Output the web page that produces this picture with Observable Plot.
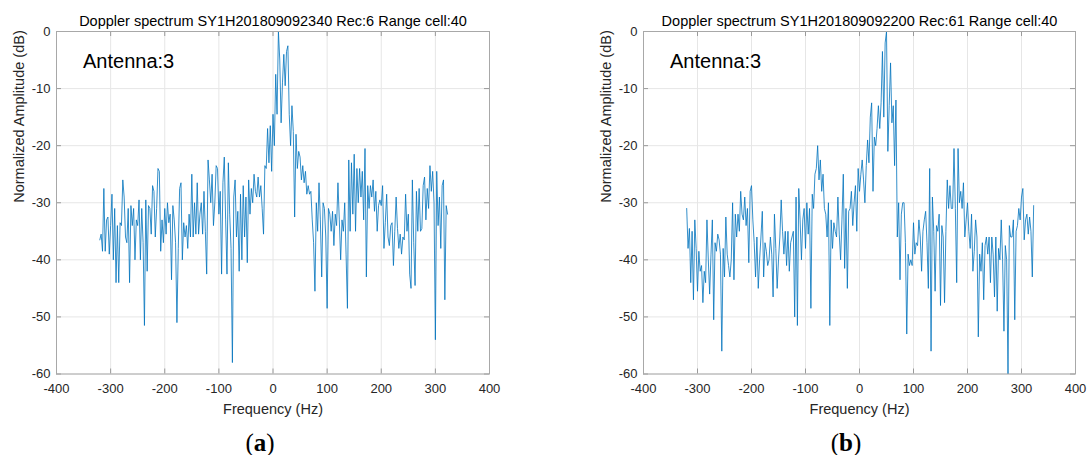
<!DOCTYPE html>
<html>
<head>
<meta charset="utf-8">
<script src="https://cdn.jsdelivr.net/npm/d3@7"></script>
<script src="https://cdn.jsdelivr.net/npm/@observablehq/plot@0.6"></script>
<style>
  html, body { margin: 0; padding: 0; background: #fff; }
  #wrap { position: relative; width: 1088px; height: 455px; background: #fff; overflow: hidden; }
  .panel { position: absolute; top: 0; }
  .cap { position: absolute; top: 427px; width: 100px; text-align: center;
         font-family: 'Liberation Serif', 'DejaVu Serif', serif; font-size: 25px; line-height: 32px; color: #000; }
</style>
</head>
<body>
<div id="wrap">
  <div id="pa" class="panel" style="left:0"></div>
  <div id="pb" class="panel" style="left:544px"></div>
  <div class="cap" style="left:210px">(<b>a</b>)</div>
  <div class="cap" style="left:796px">(<b>b</b>)</div>
</div>
<script>
const titleA = "Doppler spectrum SY1H201809092340 Rec:6 Range cell:40";
const titleB = "Doppler spectrum SY1H201809092200 Rec:61 Range cell:40";
const antennaLabel = "Antenna:3";
const xLabel = "Frequency (Hz)";
const yLabel = "Normalized Amplitude (dB)";
const xTicks = [-400, -300, -200, -100, 0, 100, 200, 300, 400];
const yTicks = [0, -10, -20, -30, -40, -50, -60];

const freqHz = [-320,-317.5,-315,-312.5,-310,-307.5,-305,-302.5,-300,-297.5,-295,-292.5,-290,-287.5,-285,-282.5,
-280,-277.5,-275,-272.5,-270,-267.5,-265,-262.5,-260,-257.5,-255,-252.5,-250,-247.5,-245,-242.5,
-240,-237.5,-235,-232.5,-230,-227.5,-225,-222.5,-220,-217.5,-215,-212.5,-210,-207.5,-205,-202.5,
-200,-197.5,-195,-192.5,-190,-187.5,-185,-182.5,-180,-177.5,-175,-172.5,-170,-167.5,-165,-162.5,
-160,-157.5,-155,-152.5,-150,-147.5,-145,-142.5,-140,-137.5,-135,-132.5,-130,-127.5,-125,-122.5,
-120,-117.5,-115,-112.5,-110,-107.5,-105,-102.5,-100,-97.5,-95,-92.5,-90,-87.5,-85,-82.5,
-80,-77.5,-75,-72.5,-70,-67.5,-65,-62.5,-60,-57.5,-55,-52.5,-50,-47.5,-45,-42.5,
-40,-37.5,-35,-32.5,-30,-27.5,-25,-22.5,-20,-17.5,-15,-12.5,-10,-7.5,-5,-2.5,
0,2.5,5,7.5,10,12.5,15,17.5,20,22.5,25,27.5,30,32.5,35,37.5,
40,42.5,45,47.5,50,52.5,55,57.5,60,62.5,65,67.5,70,72.5,75,77.5,
80,82.5,85,87.5,90,92.5,95,97.5,100,102.5,105,107.5,110,112.5,115,117.5,
120,122.5,125,127.5,130,132.5,135,137.5,140,142.5,145,147.5,150,152.5,155,157.5,
160,162.5,165,167.5,170,172.5,175,177.5,180,182.5,185,187.5,190,192.5,195,197.5,
200,202.5,205,207.5,210,212.5,215,217.5,220,222.5,225,227.5,230,232.5,235,237.5,
240,242.5,245,247.5,250,252.5,255,257.5,260,262.5,265,267.5,270,272.5,275,277.5,
280,282.5,285,287.5,290,292.5,295,297.5,300,302.5,305,307.5,310,312.5,315,317.5,
320,322.5];

// Panel (a): Rec 6, antenna 3
const ampA = [-36.5,-35.5,-38.5,-27.5,-38.5,-33,-32.5,-39,-34,-28.5,-40,-31,-44,-34,-44,-33.5,
-34,-26,-29,-36,-37,-31,-44,-30.5,-34,-31,-40,-33,-34,-29.5,-40,-31,
-37,-51.5,-29.5,-42,-30.5,-31,-35.5,-27,-28,-36,-31,-24,-24.5,-38.5,-33,-37,
-31,-35.5,-30,-33.5,-32,-43.5,-30.5,-33,-37,-51,-38,-27.5,-26.5,-40,-33.5,-36,
-34,-38,-32,-36,-25,-36,-30,-35.5,-26.5,-35.5,-32,-30,-35.5,-28,-35,-42.5,
-22.5,-26,-30,-25,-34,-30,-23.5,-24,-32,-28,-42.5,-26.5,-22,-33,-42.5,-23,
-32,-38,-58,-29,-26,-36,-31.5,-42,-28.5,-40,-27,-36,-29,-40.5,-26,-32,
-27.5,-30,-25,-28,-29,-25.5,-29,-27,-31,-35.5,-23.5,-24,-17,-23,-16.5,-24.5,
-14.5,-20,-7.5,-14.5,0,-5,-16,-9,-4,-9.5,-3.5,-2.5,-14.5,-20,-13,-17.5,
-32.5,-18,-24,-21,-22,-26,-23.5,-26.5,-24.5,-28.5,-27,-28.5,-28,-33,-37,-45.5,
-30,-35,-26.5,-33,-43,-30,-31,-36,-48.5,-31,-32,-35,-31.5,-37.5,-32,-34,
-26.5,-33,-40,-33,-35,-30,-39,-48.5,-22.5,-35,-23,-32,-21.5,-35,-24,-30,
-24,-29,-24.5,-33,-20.5,-43,-27,-31,-27,-29,-26,-31.5,-28,-35,-30.5,-29.5,
-30.5,-27,-38,-33.5,-28.5,-36,-37.5,-34,-33.5,-41,-35,-29,-34.5,-38,-35.5,-39,
-36,-36.5,-28.5,-35,-32,-42.5,-45,-26,-37,-44.5,-28,-35,-27.5,-35,-34.5,-27,
-25.5,-33,-27.5,-31,-23.5,-28,-24.5,-30,-54,-24.5,-34,-29,-38,-27,-26,-47,
-30.5,-32];

// Panel (b): Rec 61, antenna 3
const ampB = [-31,-38,-34.5,-44,-35,-47,-33,-38,-45.5,-38.5,-42,-41,-47.5,-42,-44,-33,
-40,-46,-39,-33,-50.5,-37,-38.5,-35.5,-36.5,-39,-56,-38,-43,-32.5,-39,-41,
-43,-40,-30,-43.5,-32,-36,-32,-35,-28,-32,-33,-29,-34,-31,-40.5,-28,
-27,-33,-37,-43,-36,-45,-40,-36,-31.5,-43,-37,-38.5,-41,-40,-36,-39,
-46.5,-32,-38,-45,-40,-36,-29.5,-35,-39,-35,-41,-35,-42,-37,-36,-35,
-50,-29,-51.5,-27.5,-33,-40,-33,-31,-38,-30,-35.5,-31,-48.5,-28.5,-31,-25,
-24,-20,-26,-22.5,-28,-25,-31,-32,-36,-30,-51.5,-33,-38,-33.5,-35,-36,
-29,-35.5,-40,-33,-25,-41.5,-31,-45,-31.5,-31,-28,-34,-30,-27,-35,-24,
-28,-25,-22.5,-26,-30,-23.5,-19,-23,-15,-12.5,-28,-18.5,-20,-17,-13,-17,
-12.5,-3.5,-15,-2,0,-21,-13,-5.5,-16,-13,-23.5,-12,-36,-30,-43.5,-32,
-30,-30,-37,-53,-39,-41,-40,-41,-33.5,-39,-37,-37.5,-33,-36,-42,-35,
-33,-31.5,-37,-45,-24,-56,-29,-35,-45.5,-34,-35,-32,-48,-34,-36,-47.5,
-35,-26,-31,-27,-31,-31,-20.5,-31,-44,-20.5,-30,-28,-31,-26.5,-36,-33,
-30,-35,-38,-32,-42,-38.5,-33,-36,-53.5,-39,-42,-37,-47,-37.5,-36,-39,
-36,-44,-36,-39,-46.5,-36,-49,-38,-40,-33,-40,-52.5,-37.5,-40,-60,-34,
-36,-36,-33,-50.5,-35,-34,-31,-33,-29,-27.5,-36.5,-33,-32,-35.5,-32.5,-35,
-43,-30.5];

function panel(amp, title, ml, mr) {
  const W = 544, H = 425, mt = 31, mb = 51.5;
  const pw = W - ml - mr, ph = H - mt - mb;
  const data = freqHz.map((f, i) => ({f, db: amp[i]}));
  const tickCol = "#9a9a9a";
  return Plot.plot({
    width: W, height: H,
    marginLeft: ml, marginRight: mr, marginTop: mt, marginBottom: mb,
    style: {fontFamily: "'Liberation Sans', Arial, Helvetica, sans-serif", fontSize: "13px", color: "#262626", background: "white", overflow: "visible"},
    x: {domain: [-400, 400]},
    y: {domain: [-60, 0]},
    marks: [
      Plot.ruleX(xTicks, {x: d => d, stroke: "#e6e6e6"}),
      Plot.ruleY(yTicks, {y: d => d, stroke: "#e6e6e6"}),
      Plot.line(data, {x: "f", y: "db", stroke: "#0072BD", strokeWidth: 0.8}),
      Plot.tickX(xTicks, {x: d => d, insetTop: ph - 5, stroke: tickCol}),
      Plot.tickX(xTicks, {x: d => d, insetBottom: ph - 5, stroke: tickCol}),
      Plot.tickY(yTicks, {y: d => d, insetRight: pw - 5, stroke: tickCol}),
      Plot.tickY(yTicks, {y: d => d, insetLeft: pw - 5, stroke: tickCol}),
      Plot.frame({stroke: "#a8a8a8"}),
      Plot.axisX({ticks: xTicks, tickSize: 0, tickPadding: 10, tickFormat: d => String(d), label: null, fill: "#262626", fontSize: 13}),
      Plot.axisY({ticks: yTicks, tickSize: 0, tickPadding: 6, tickFormat: d => String(d), label: null, fill: "#262626", fontSize: 13}),
      Plot.text([title], {text: d => d, frameAnchor: "top", dy: -10, fontSize: 14.5, fill: "#000", lineAnchor: "middle"}),
      Plot.text([xLabel], {text: d => d, frameAnchor: "bottom", dy: 35, fontSize: 14.5, fill: "#262626", lineAnchor: "middle"}),
      Plot.text([yLabel], {text: d => d, frameAnchor: "left", dx: -37, rotate: -90, fontSize: 14.5, fill: "#262626", lineAnchor: "middle"}),
      Plot.text([antennaLabel], {text: d => d, frameAnchor: "top-left", dx: 26.5, dy: 29.7, textAnchor: "start", lineAnchor: "middle", fontSize: 20, fill: "#000"})
    ]
  });
}

document.getElementById("pa").appendChild(panel(ampA, titleA, 56, 55));
document.getElementById("pb").appendChild(panel(ampB, titleB, 99, 13));
</script>
</body>
</html>
